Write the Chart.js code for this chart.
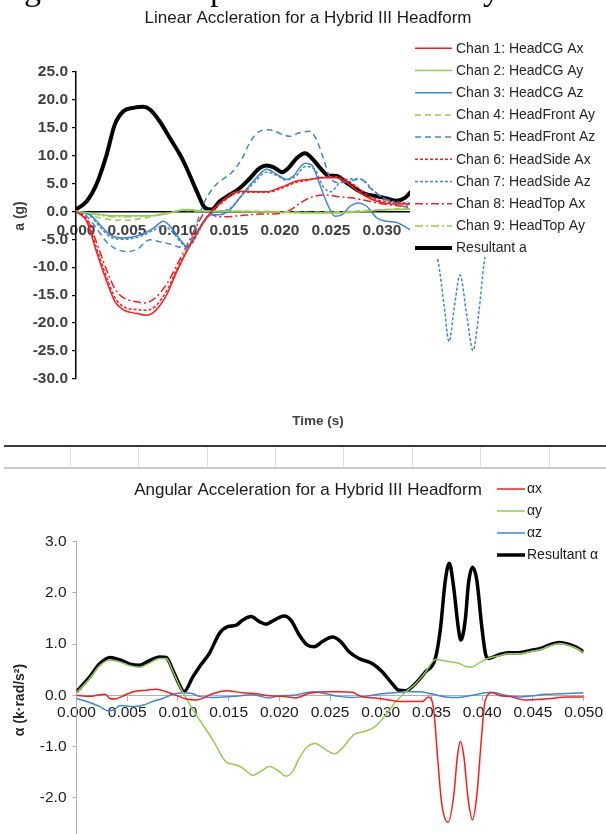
<!DOCTYPE html>
<html><head><meta charset="utf-8">
<script src="https://cdn.jsdelivr.net/npm/chart.js@4.4.1/dist/chart.umd.min.js"></script>
<style>
html,body{margin:0;padding:0;background:#fff;overflow:hidden;}
#wrap{position:relative;width:606px;height:834px;overflow:hidden;background:#fff;}
canvas{position:absolute;left:0;}
#c1{top:0;}
#c2{top:476px;}
.rule{position:absolute;}
</style></head>
<body>
<div id="wrap">
<canvas id="c1" width="606" height="440"></canvas>
<div class="rule" style="left:4px;top:445px;width:602px;height:2px;background:#3a3a3a"></div>
<div class="rule" style="left:4px;top:467px;width:602px;height:2px;background:#c8c8c8"></div>
<div class="rule" style="left:70px;top:447px;width:1px;height:20px;background:#dcdcdc"></div>
<div class="rule" style="left:138px;top:447px;width:1px;height:20px;background:#dcdcdc"></div>
<div class="rule" style="left:207px;top:447px;width:1px;height:20px;background:#dcdcdc"></div>
<div class="rule" style="left:275px;top:447px;width:1px;height:20px;background:#dcdcdc"></div>
<div class="rule" style="left:343px;top:447px;width:1px;height:20px;background:#dcdcdc"></div>
<div class="rule" style="left:412px;top:447px;width:1px;height:20px;background:#dcdcdc"></div>
<div class="rule" style="left:480px;top:447px;width:1px;height:20px;background:#dcdcdc"></div>
<div class="rule" style="left:549px;top:447px;width:1px;height:20px;background:#dcdcdc"></div>
<canvas id="c2" width="606" height="400"></canvas>
</div>
<script>
// ---------- Top chart: Linear acceleration (g) vs time (s) ----------
const linTitle = 'Linear Accleration for a Hybrid III Headform';
const linLabels = ['Chan 1: HeadCG Ax','Chan 2: HeadCG Ay','Chan 3: HeadCG Az','Chan 4: HeadFront Ay','Chan 5: HeadFront Az','Chan 6: HeadSide Ax','Chan 7: HeadSide Az','Chan 8: HeadTop Ax','Chan 9: HeadTop Ay','Resultant a'];

const ch1T = [0,0.00105,0.002,0.003,0.0038,0.0046,0.006,0.0069,0.0077,0.0089,0.0099,0.01085,0.01216,0.0133,0.0143,0.0154,0.0164,0.0177,0.0187,0.02,0.02164,0.0229,0.02425,0.0255,0.0265,0.0275,0.0285,0.0295,0.0305,0.0315,0.0332];
const ch1V = [0,-1.8,-7.2,-12.5,-16.1,-17.6,-18.3,-18.6,-17.9,-14.9,-10.7,-7.2,-3.0,0,1.8,3.3,3.6,3.5,3.5,4.2,5.4,5.7,6.0,6.0,5.2,3.8,2.6,1.8,1.4,1.3,1.3];
const ch6V = [0,-1.5,-6.5,-11.8,-15.4,-17.0,-17.6,-17.7,-17.1,-14.2,-10.3,-7.0,-2.8,0,1.5,3.0,3.4,3.4,3.4,4.0,5.2,5.6,6.1,6.2,5.6,4.4,3.0,2.1,1.7,1.5,1.4];
const ch8T = [0,0.00105,0.002,0.003,0.0038,0.0046,0.006,0.0067,0.0077,0.0089,0.0099,0.0109,0.0119,0.0128,0.0136,0.0145,0.016,0.018,0.02,0.021,0.022,0.0232,0.0245,0.0258,0.027,0.0282,0.0295,0.0305,0.0315,0.0332];
const ch8V = [0,-1.2,-5.5,-10.5,-13.8,-15.4,-16.2,-16.4,-15.6,-13.0,-9.6,-6.0,-2.4,0,-0.8,-1.0,-0.8,-0.5,-0.4,0.2,1.5,2.6,2.9,2.6,2.4,2.0,1.5,1.2,1.0,0.9];
const ch2T = [0,0.001,0.002,0.003,0.004,0.005,0.006,0.007,0.008,0.009,0.0098,0.0105,0.0112,0.012,0.013,0.015,0.018,0.021,0.023,0.025,0.027,0.029,0.031,0.0332];
const ch2V = [0,-0.2,-0.5,-0.7,-0.8,-0.8,-0.8,-0.8,-0.7,-0.4,0,0.3,0.3,0.1,0,0,-0.1,-0.2,-0.3,-0.3,-0.2,0.1,0.3,0.4];
const ch4V = [0,-0.4,-1.0,-1.4,-1.6,-1.6,-1.4,-1.1,-0.7,-0.3,0,0.2,0.1,0,0,0,0,-0.1,-0.2,-0.1,0,0.2,0.4,0.5];
const ch9V = [0,-0.3,-0.6,-0.9,-1.0,-1.0,-0.9,-0.8,-0.6,-0.3,0,0.2,0.2,0.1,0,0,-0.1,-0.2,-0.2,-0.2,-0.1,0.1,0.3,0.4];
const ch3T = [0,0.00137,0.00235,0.00333,0.0046,0.0063,0.0076,0.00856,0.0095,0.01036,0.01085,0.0115,0.01248,0.0133,0.0141,0.0151,0.0161,0.0174,0.0187,0.0196,0.02065,0.0213,0.02245,0.0231,0.0239,0.02474,0.0254,0.0261,0.02686,0.0277,0.0285,0.0295,0.03046,0.03144,0.03275,0.0332];
const ch3V = [0,-0.6,-2.4,-4.2,-4.8,-4.2,-3.0,-1.8,-3.3,-5.4,-6.3,-5.1,-1.8,-0.6,-0.6,0.3,2.5,5.4,7.5,6.7,5.7,6.3,8.6,8.3,4.8,0.9,-0.9,-0.6,0.9,1.5,0.9,-1.2,-1.8,-2.0,-3.3,-3.8];
const ch5T = [0,0.001,0.002,0.003,0.004,0.005,0.006,0.00725,0.0081,0.0091,0.0099,0.01085,0.0116,0.01248,0.01346,0.0154,0.0163,0.0171,0.018,0.0189,0.0203,0.0209,0.0218,0.0229,0.0235,0.02425,0.0249,0.0259,0.0273,0.0279,0.0288,0.0301,0.03144,0.03275,0.0332];
const ch5V = [0,-0.8,-3.0,-5.5,-6.8,-7.2,-6.8,-5.1,-5.4,-5.8,-6.3,-6.6,-3.5,1.2,4.2,7.2,9.5,12.5,14.3,14.6,13.7,13.4,14.0,14.3,13.1,9.5,6.0,5.1,5.6,5.8,4.2,2.4,1.2,0.6,0.4];
const ch7T = [0,0.00137,0.00235,0.00333,0.0046,0.0063,0.0076,0.00856,0.0095,0.0103,0.0109,0.0116,0.0125,0.0133,0.0141,0.0151,0.0161,0.0174,0.0187,0.0196,0.0206,0.0215,0.0225,0.0234,0.0242,0.025,0.0258,0.027,0.028,0.029,0.03,0.031,0.032,0.033,0.0343,0.0355,0.0361,0.03657,0.0371,0.03765,0.0383,0.03892,0.0395,0.04,0.0405];
const ch7V = [0,-0.8,-2.8,-4.6,-5.0,-4.5,-3.4,-2.6,-3.8,-5.6,-6.5,-5.2,-2.0,-0.4,0,0.5,2.5,5.0,7.0,6.5,5.6,6.2,8.0,7.5,4.5,3.5,5.0,5.8,5.7,4.0,2.5,1.8,1.5,0.8,-3.0,-9.0,-17.0,-23.3,-17.0,-11.4,-18.5,-24.9,-18.0,-9.3,-3.0];
const resAT = [0,0.00105,0.002,0.003,0.0038,0.00464,0.0056,0.0066,0.00725,0.0082,0.0092,0.0102,0.01085,0.01183,0.01265,0.0133,0.0141,0.0151,0.0161,0.0171,0.018,0.0187,0.01935,0.0202,0.0208,0.02164,0.02245,0.02327,0.0241,0.02474,0.02556,0.02654,0.0275,0.0285,0.0295,0.03046,0.03144,0.03225,0.03275,0.0332];
const resAV = [0.3,1.8,4.8,10.1,15.5,17.9,18.5,18.7,18.2,16.1,13.1,10.1,7.7,3.6,0.6,0.3,1.8,3.0,4.2,6.0,7.7,8.2,7.9,7.0,7.7,9.5,10.4,9.2,7.4,6.4,6.3,5.1,3.9,3.0,2.7,2.3,1.9,2.4,3.3,4.0];

// ---------- Bottom chart: Angular acceleration (k·rad/s²) vs time (s) ----------
const angTitle = 'Angular Acceleration for a Hybrid III Headform';
const angLabels = ['αx','αy','αz','Resultant α'];
const axT = [0,0.0013,0.0023,0.0028,0.0033,0.0038,0.0045,0.0056,0.0069,0.0079,0.00886,0.00984,0.01082,0.0118,0.01344,0.01475,0.01639,0.0177,0.019,0.02031,0.02163,0.02293,0.02458,0.0259,0.0272,0.02817,0.02949,0.0308,0.03178,0.0341,0.0347,0.0352,0.0356,0.036,0.03664,0.0372,0.03755,0.03785,0.0382,0.0386,0.03905,0.0395,0.0399,0.0403,0.041,0.0418,0.0426,0.04422,0.0455,0.04685,0.0482,0.05];
const axV = [0,-0.02,0.01,0.02,-0.06,-0.07,-0.02,0.07,0.1,0.12,0.07,0,-0.07,-0.09,0.03,0.09,0.05,0.03,-0.01,-0.02,-0.05,0.04,0.07,0.07,0.06,-0.03,-0.05,-0.09,-0.12,-0.12,-0.03,-0.25,-1.2,-2.1,-2.48,-1.95,-1.2,-0.9,-1.2,-2.0,-2.43,-1.9,-0.9,-0.1,0.05,-0.01,-0.02,-0.09,-0.08,-0.06,-0.03,-0.03];
const ayT = [0,0.0013,0.0023,0.0033,0.0043,0.00526,0.00624,0.0072,0.0082,0.00886,0.0095,0.01017,0.0106,0.01139,0.01213,0.01344,0.01475,0.01574,0.0164,0.01737,0.01835,0.019,0.02,0.02065,0.0213,0.02195,0.02278,0.02354,0.02449,0.02544,0.0262,0.02734,0.02847,0.02942,0.03037,0.0315,0.0323,0.0334,0.0344,0.0354,0.03664,0.03759,0.03834,0.03891,0.03967,0.04043,0.0416,0.04258,0.04357,0.04487,0.04585,0.04684,0.04766,0.04848,0.04929,0.05];
const ayV = [0.05,0.33,0.58,0.69,0.65,0.58,0.55,0.63,0.72,0.72,0.47,0.18,0.02,-0.25,-0.48,-0.87,-1.3,-1.36,-1.42,-1.56,-1.46,-1.39,-1.49,-1.58,-1.49,-1.23,-1.0,-0.94,-1.05,-1.14,-1.03,-0.77,-0.7,-0.61,-0.41,-0.12,0.04,0.22,0.45,0.7,0.66,0.63,0.57,0.55,0.63,0.71,0.77,0.81,0.81,0.86,0.9,0.98,1.01,0.98,0.92,0.83];
const azT = [0,0.0013,0.0023,0.0031,0.0037,0.0043,0.0056,0.0066,0.0075,0.0085,0.0095,0.0105,0.0115,0.0121,0.01344,0.0154,0.0174,0.019,0.02,0.0213,0.0226,0.0233,0.0246,0.0259,0.0272,0.0285,0.0301,0.03178,0.0324,0.0337,0.035,0.0364,0.0377,0.039,0.0403,0.041,0.0423,0.0436,0.0449,0.0462,0.0475,0.0488,0.05];
const azV = [-0.06,-0.14,-0.22,-0.3,-0.28,-0.2,-0.22,-0.19,-0.12,-0.06,0.02,0.05,0.03,-0.02,-0.04,-0.02,0.01,-0.05,-0.01,0,0.05,0.07,0.03,-0.02,-0.04,-0.02,0.03,0.06,0.07,0.07,0.03,-0.03,-0.04,0,0.05,0.06,0,-0.03,-0.01,0.02,0.03,0.04,0.05];
const resBT = [0,0.0013,0.0023,0.0033,0.0043,0.00526,0.00624,0.0072,0.0082,0.00886,0.0095,0.01017,0.0106,0.01147,0.01213,0.0131,0.0141,0.0149,0.01574,0.01639,0.01721,0.01803,0.01868,0.0195,0.02048,0.02114,0.02196,0.02277,0.02343,0.02424,0.02523,0.02605,0.02687,0.02785,0.02915,0.03014,0.03112,0.03178,0.03244,0.03342,0.0344,0.03538,0.03587,0.03637,0.03676,0.03718,0.03767,0.0379,0.03833,0.03865,0.03905,0.03947,0.03996,0.04035,0.04062,0.0416,0.04258,0.04357,0.04487,0.04585,0.04684,0.04766,0.04848,0.04929,0.05];
const resBV = [0.07,0.36,0.62,0.74,0.69,0.61,0.59,0.68,0.75,0.74,0.49,0.2,0.07,0.36,0.56,0.82,1.21,1.34,1.37,1.47,1.54,1.44,1.39,1.47,1.55,1.47,1.18,0.98,0.95,1.05,1.14,1.05,0.85,0.72,0.62,0.46,0.23,0.1,0.09,0.23,0.46,0.72,1.28,2.25,2.58,2.12,1.28,1.08,1.47,2.19,2.5,2.25,1.34,0.79,0.72,0.79,0.83,0.83,0.88,0.92,1.0,1.03,1.0,0.94,0.85];

const xTickStep = 0.005;
const RED = '#FF1A1A', GREEN = '#92CD50', BLUE = '#3F86D3';
const FONT = "'Liberation Sans', Arial, sans-serif";

function pts(T, V) { const n = Math.min(T.length, V.length); const a = []; for (let i = 0; i < n; i++) a.push({x: T[i], y: V[i]}); return a; }
function ds(label, T, V, color, width, dash) {
  return {label, data: pts(T, V), borderColor: color, backgroundColor: color, borderWidth: width, borderDash: dash || [],
    pointRadius: 0, fill: false, cubicInterpolationMode: 'monotone'};
}

function drawLegend(ctx, datasets, ys, x0, x1, tx, font, color) {
  ctx.save();
  ctx.font = font; ctx.fillStyle = color; ctx.textBaseline = 'middle'; ctx.textAlign = 'left';
  datasets.forEach((d, i) => {
    const y = ys[i];
    ctx.beginPath();
    ctx.strokeStyle = d.borderColor; ctx.lineWidth = d.borderWidth; ctx.setLineDash(d.borderDash || []);
    ctx.moveTo(x0, y); ctx.lineTo(x1, y); ctx.stroke();
    ctx.setLineDash([]);
    ctx.fillText(d.label, tx, y + 0.5);
  });
  ctx.restore();
}

const topOverlay = {
  id: 'topOverlay',
  afterDraw(chart) {
    const ctx = chart.ctx;
    ctx.save();
    // fragments of the line of text above the chart
    ctx.fillStyle = '#000'; ctx.font = "34px 'Liberation Serif', serif"; ctx.textBaseline = 'alphabetic';
    ctx.fillText('g', 24, 0); ctx.fillText('p', 210, 0); ctx.fillText('y', 483, 0);
    // title
    ctx.fillStyle = '#1a1a1a'; ctx.font = '17px ' + FONT; ctx.textAlign = 'center'; ctx.textBaseline = 'middle';
    ctx.fillText(linTitle, 308, 18);
    // axis titles
    ctx.font = 'bold 13.5px ' + FONT; ctx.fillStyle = '#404040';
    ctx.fillText('Time (s)', 318, 421);
    ctx.save(); ctx.translate(20, 216); ctx.rotate(-Math.PI / 2); ctx.font = 'bold 14px ' + FONT; ctx.fillText('a (g)', 0, 0); ctx.restore();
    // legend box (white, covers the right part of the plot)
    ctx.fillStyle = '#fff'; ctx.fillRect(410, 30, 196, 227);
    ctx.restore();
    const ys = linLabels.map((_, i) => 48.3 + i * 22.2);
    drawLegend(ctx, chart.data.datasets, ys, 415, 452, 456, '14px ' + FONT, '#262626');
  }
};

const botOverlay = {
  id: 'botOverlay',
  afterDraw(chart) {
    const ctx = chart.ctx;
    ctx.save();
    ctx.fillStyle = '#1a1a1a'; ctx.font = '17px ' + FONT; ctx.textAlign = 'center'; ctx.textBaseline = 'middle';
    ctx.fillText(angTitle, 308, 14);
    ctx.save(); ctx.translate(20, 224); ctx.rotate(-Math.PI / 2); ctx.font = 'bold 14px ' + FONT; ctx.fillStyle = '#262626'; ctx.fillText('α (k·rad/s²)', 0, 0); ctx.restore();
    ctx.restore();
    const ys = angLabels.map((_, i) => 13 + i * 22);
    drawLegend(ctx, chart.data.datasets, ys, 497, 525, 527, '14px ' + FONT, '#1a1a1a');
  }
};

Chart.defaults.font.family = FONT;

new Chart(document.getElementById('c1'), {
  type: 'line',
  data: { datasets: [
    ds(linLabels[0], ch1T, ch1V, RED, 1.5),
    ds(linLabels[1], ch2T, ch2V, GREEN, 1.5),
    ds(linLabels[2], ch3T, ch3V, BLUE, 1.5),
    ds(linLabels[3], ch2T, ch4V, GREEN, 1.5, [6, 4]),
    ds(linLabels[4], ch5T, ch5V, BLUE, 1.5, [6, 4]),
    ds(linLabels[5], ch1T, ch6V, RED, 1.5, [3, 2]),
    ds(linLabels[6], ch7T, ch7V, BLUE, 1.5, [3, 2]),
    ds(linLabels[7], ch8T, ch8V, RED, 1.5, [8, 3, 2, 3]),
    ds(linLabels[8], ch2T, ch9V, GREEN, 1.5, [8, 3, 2, 3]),
    ds(linLabels[9], resAT, resAV, '#000', 4)
  ]},
  options: {
    responsive: false, animation: false, devicePixelRatio: 1,
    layout: { padding: { left: 0, right: 20, top: 71.5, bottom: 61 } },
    plugins: { legend: { display: false }, title: { display: false }, tooltip: { enabled: false } },
    scales: {
      x: { type: 'linear', position: { y: 0 }, min: 0, max: 0.05,
        // labels past 0.030 sit under the legend box in the original
        ticks: { stepSize: xTickStep, callback: v => (v > 0.0301 ? '' : v.toFixed(3)), color: '#404040', font: { size: 15.5, weight: 'bold' }, padding: 10, maxRotation: 0, autoSkip: false },
        grid: { display: false, drawTicks: false },
        border: { display: true, color: '#000', width: 1.5 } },
      y: { type: 'linear', min: -30, max: 25,
        afterFit: s => { s.width = 76; },
        ticks: { stepSize: 5, callback: v => v.toFixed(1), color: '#404040', font: { size: 15.5, weight: 'bold' }, padding: 4 },
        grid: { display: true, drawOnChartArea: false, drawTicks: true, tickLength: 4, color: '#000', lineWidth: 1.2 },
        border: { display: true, color: '#000', width: 1.5 } }
    }
  },
  plugins: [topOverlay]
});

new Chart(document.getElementById('c2'), {
  type: 'line',
  data: { datasets: [
    ds(angLabels[0], axT, axV, RED, 1.5),
    ds(angLabels[1], ayT, ayV, GREEN, 1.5),
    ds(angLabels[2], azT, azV, BLUE, 1.5),
    ds(angLabels[3], resBT, resBV, '#000', 3.5)
  ]},
  options: {
    responsive: false, animation: false, devicePixelRatio: 1,
    layout: { padding: { left: 0, right: 20.3, top: 65.7, bottom: 27 } },
    plugins: { legend: { display: false }, title: { display: false }, tooltip: { enabled: false } },
    scales: {
      x: { type: 'linear', position: { y: 0 }, min: 0, max: 0.05,
        ticks: { stepSize: xTickStep, callback: v => v.toFixed(3), color: '#1a1a1a', font: { size: 15.5 }, padding: 3, maxRotation: 0, autoSkip: false },
        grid: { display: true, drawOnChartArea: false, drawTicks: true, tickLength: 5, color: '#b0b0b0' },
        border: { display: true, color: '#b0b0b0', width: 1 } },
      y: { type: 'linear', min: -3, max: 3,
        afterFit: s => { s.width = 76.5; },
        ticks: { stepSize: 1, callback: v => v.toFixed(1), color: '#1a1a1a', font: { size: 15.5 }, padding: 6 },
        grid: { display: true, drawOnChartArea: false, drawTicks: true, tickLength: 4, color: '#b0b0b0' },
        border: { display: true, color: '#b0b0b0', width: 1 } }
    }
  },
  plugins: [botOverlay]
});
</script>
</body></html>
